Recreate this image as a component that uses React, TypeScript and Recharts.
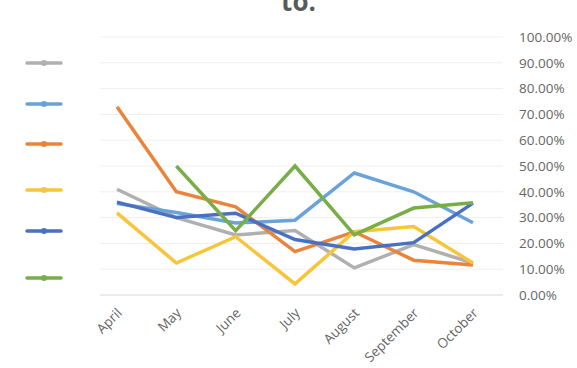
import { CartesianGrid, Legend, Line, LineChart, XAxis, YAxis } from "recharts";

const months = ["April", "May", "June", "July", "August", "September", "October"];
const grayShare = [0.41, 0.3, 0.233, 0.25, 0.105, 0.195, 0.124];
const lightBlueShare = [0.355, 0.32, 0.279, 0.29, 0.473, 0.4, 0.28];
const orangeShare = [0.73, 0.4, 0.342, 0.168, 0.245, 0.135, 0.116];
const yellowShare = [0.318, 0.124, 0.226, 0.043, 0.245, 0.265, 0.124];
const darkBlueShare = [0.36, 0.3, 0.317, 0.215, 0.178, 0.203, 0.356];
const greenShare = [null, 0.5, 0.249, 0.5, 0.233, 0.337, 0.358];
const yTicks = [0, 0.1, 0.2, 0.3, 0.4, 0.5, 0.6, 0.7, 0.8, 0.9, 1];

const series = [
  { key: "gray", color: "#B0B0B0", values: grayShare, legendY: 63 },
  { key: "lightBlue", color: "#6AA3DA", values: lightBlueShare, legendY: 104 },
  { key: "orange", color: "#E9843A", values: orangeShare, legendY: 144 },
  { key: "yellow", color: "#F7C53A", values: yellowShare, legendY: 190 },
  { key: "darkBlue", color: "#4A70C2", values: darkBlueShare, legendY: 231 },
  { key: "green", color: "#78AE48", values: greenShare, legendY: 278 }
];

const data = months.map((month, i) => {
  const row: Record<string, string | number | null> = { month };
  series.forEach((s) => {
    row[s.key] = s.values[i];
  });
  return row;
});

const font = "'Open Sans', 'Liberation Sans', sans-serif";

function SideLegend({ payload }: { payload?: { value: string; color: string }[] }) {
  return (
    <div style={{ position: "relative", width: 100, height: 300 }}>
      {(payload ?? []).map((entry) => {
        const s = series.find((x) => x.key === entry.value);
        const top = s ? s.legendY : 0;
        return (
          <svg key={entry.value} width={40} height={10} style={{ position: "absolute", left: 24, top: top - 5 }}>
            <line x1={3} y1={5} x2={37} y2={5} stroke={entry.color} strokeWidth={3.5} strokeLinecap="round" />
            <circle cx={20} cy={5} r={3} fill={entry.color} />
          </svg>
        );
      })}
    </div>
  );
}

function XTick({ x, y, payload }: { x?: number; y?: number; payload?: { value: string } }) {
  return (
    <g transform={`translate(${(x ?? 0) + 3},${(y ?? 0) + 8})`}>
      <text transform="rotate(-45)" textAnchor="end" dy={4} fill="#666" fontSize={13.5} fontFamily={font}>
        {payload?.value}
      </text>
    </g>
  );
}

export default function App() {
  return (
    <div style={{ position: "fixed", left: 0, top: 0, width: 577, height: 368, background: "#fff", overflow: "hidden" }}>
      <div
        style={{
          position: "absolute",
          left: 0,
          width: 577,
          top: -17,
          textAlign: "center",
          fontFamily: font,
          fontWeight: 700,
          fontSize: 26,
          color: "#595959",
          paddingLeft: 10
        }}
      >
        to.
      </div>
      <LineChart width={577} height={368} data={data} margin={{ top: 37, right: 4, bottom: 0, left: 0 }}>
        <CartesianGrid vertical={false} stroke="#efefef" strokeWidth={1} />
        <XAxis
          dataKey="month"
          height={73}
          interval={0}
          tickLine={false}
          axisLine={{ stroke: "#e0e0e0" }}
          padding={{ left: 17, right: 30 }}
          tick={<XTick />}
        />
        <YAxis
          orientation="right"
          width={70}
          domain={[0, 1]}
          ticks={yTicks}
          axisLine={false}
          tickLine={false}
          tickMargin={10}
          tickFormatter={(v: number) => `${(v * 100).toFixed(2)}%`}
          tick={{ fill: "#666", fontSize: 13.5, fontFamily: font, textAnchor: "start" }}
        />
        <Legend
          layout="vertical"
          align="left"
          verticalAlign="top"
          width={100}
          wrapperStyle={{ left: 0, top: 0 }}
          content={(props: any) => <SideLegend payload={props.payload} />}
        />
        {series.map((s) => (
          <Line
            key={s.key}
            type="linear"
            dataKey={s.key}
            stroke={s.color}
            strokeWidth={3.5}
            dot={false}
            isAnimationActive={false}
          />
        ))}
      </LineChart>
    </div>
  );
}
